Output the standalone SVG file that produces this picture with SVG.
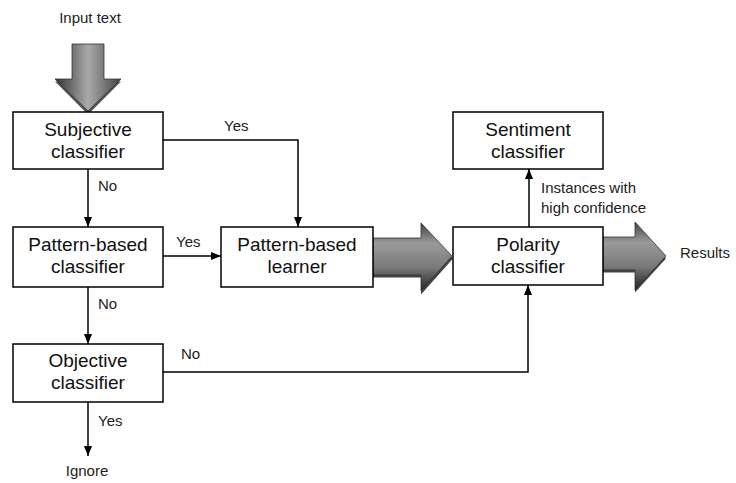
<svg xmlns="http://www.w3.org/2000/svg" width="736" height="483" viewBox="0 0 736 483">
<style>
.box{fill:#fff;stroke:#000;stroke-width:1.5}
.bt{font-family:"Liberation Sans",Arial,sans-serif;font-size:19px;fill:#111;text-anchor:middle}
.lb{font-family:"Liberation Sans",Arial,sans-serif;font-size:15px;fill:#222}
.cn{fill:none;stroke:#000;stroke-width:1.5}
.fat{stroke:#333;stroke-width:0.8}
</style>
<defs>
<marker id="ah" markerWidth="10" markerHeight="8" refX="10" refY="4" orient="auto" markerUnits="userSpaceOnUse">
<path d="M0,0 L10,4 L0,8 Z" fill="#000"/>
</marker>
<linearGradient id="gv" x1="0" y1="0" x2="0" y2="1">
<stop offset="0" stop-color="#444"/>
<stop offset="0.3" stop-color="#9a9a9a"/>
<stop offset="0.65" stop-color="#7a7a7a"/>
<stop offset="1" stop-color="#222"/>
</linearGradient>
<linearGradient id="gh" x1="0" y1="0" x2="1" y2="0">
<stop offset="0" stop-color="#333"/>
<stop offset="0.5" stop-color="#aaa"/>
<stop offset="1" stop-color="#444"/>
</linearGradient>
</defs>

<g id="fat-arrows">
<polygon points="73,45 105,45 105,80 122,80 89,113 56,80 73,80" fill="#555" transform="translate(-1,1.5)"/>
<polygon class="fat" points="72,44 104,44 104,79 121,79 88,111 55,79 72,79" fill="url(#gh)"/>
<polygon points="373,239 421,239 421,224 453,257 421,293 421,276 373,276" fill="#444" transform="translate(0,1.5)"/>
<polygon class="fat" points="373,238 421,238 421,223 452,256 421,291 421,275 373,275" fill="url(#gv)"/>
<polygon points="603,238 635,238 635,223 666,257 635,291 635,271 603,271" fill="#444" transform="translate(0,1.5)"/>
<polygon class="fat" points="603,237 635,237 635,222 666,256 635,290 635,270 603,270" fill="url(#gv)"/>
</g>

<g id="connectors">
<path class="cn" d="M163,140 H298 V227" marker-end="url(#ah)"/>
<path class="cn" d="M88,169 V227" marker-end="url(#ah)"/>
<path class="cn" d="M163,256 H221" marker-end="url(#ah)"/>
<path class="cn" d="M88,287 V344" marker-end="url(#ah)"/>
<path class="cn" d="M88,402 V456" marker-end="url(#ah)"/>
<path class="cn" d="M163,372 H528 V285" marker-end="url(#ah)"/>
<path class="cn" d="M529,227 V169" marker-end="url(#ah)"/>
</g>

<g id="subjective">
<rect class="box" x="13" y="112" width="150" height="57"/>
<text class="bt" x="88" y="136">Subjective</text>
<text class="bt" x="88" y="158">classifier</text>
</g>
<g id="pattern-classifier">
<rect class="box" x="13" y="227" width="150" height="60"/>
<text class="bt" x="88" y="251">Pattern-based</text>
<text class="bt" x="88" y="273">classifier</text>
</g>
<g id="pattern-learner">
<rect class="box" x="221" y="227" width="152" height="60"/>
<text class="bt" x="297" y="251">Pattern-based</text>
<text class="bt" x="297" y="273">learner</text>
</g>
<g id="objective">
<rect class="box" x="13" y="344" width="150" height="58"/>
<text class="bt" x="88" y="367">Objective</text>
<text class="bt" x="88" y="389">classifier</text>
</g>
<g id="polarity">
<rect class="box" x="453" y="227" width="150" height="58"/>
<text class="bt" x="528" y="251">Polarity</text>
<text class="bt" x="528" y="273">classifier</text>
</g>
<g id="sentiment">
<rect class="box" x="453" y="112" width="150" height="57"/>
<text class="bt" x="528" y="136">Sentiment</text>
<text class="bt" x="528" y="158">classifier</text>
</g>

<g id="labels">
<text class="lb" x="90" y="23" text-anchor="middle">Input text</text>
<text class="lb" x="224" y="131">Yes</text>
<text class="lb" x="98" y="191">No</text>
<text class="lb" x="176" y="247">Yes</text>
<text class="lb" x="98" y="309">No</text>
<text class="lb" x="181" y="359">No</text>
<text class="lb" x="98" y="426">Yes</text>
<text class="lb" x="87" y="476" text-anchor="middle">Ignore</text>
<text class="lb" x="680" y="258">Results</text>
<text class="lb" x="541" y="193">Instances with</text>
<text class="lb" x="541" y="213">high confidence</text>
</g>
</svg>
